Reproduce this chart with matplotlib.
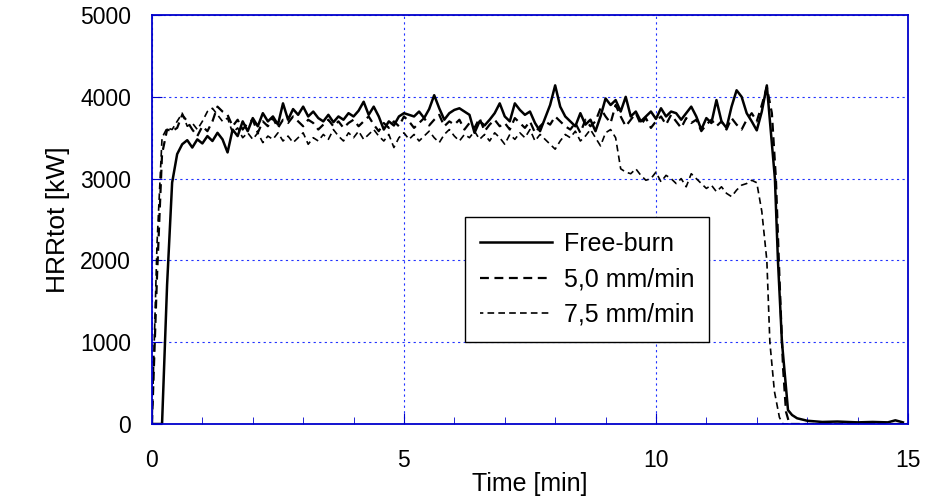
import numpy as np
import matplotlib
matplotlib.use('Agg')
import matplotlib.pyplot as plt
from matplotlib.ticker import MultipleLocator

# time grid for the burning phase (0.1 min steps) + tail points per series
t_grid_fb = np.round(np.arange(0, 12.21, 0.1), 1)
hrr_free = [0, 0, 0, 1700, 2950, 3300, 3420, 3470, 3380, 3480,
            3430, 3520, 3460, 3560, 3480, 3320, 3600, 3520, 3700, 3580,
            3740, 3640, 3800, 3700, 3760, 3660, 3920, 3720, 3850, 3780,
            3880, 3760, 3820, 3740, 3700, 3780, 3690, 3760, 3720, 3800,
            3760, 3830, 3940, 3780, 3880, 3760, 3600, 3700, 3650, 3760,
            3800, 3780, 3760, 3820, 3740, 3850, 4020, 3860, 3720, 3800,
            3840, 3860, 3820, 3780, 3560, 3700, 3650, 3720, 3800, 3920,
            3760, 3700, 3920, 3840, 3780, 3820, 3680, 3580, 3740, 3900,
            4140, 3880, 3760, 3700, 3640, 3800, 3660, 3720, 3580, 3760,
            3980, 3900, 3960, 3820, 4000, 3760, 3820, 3700, 3760, 3820,
            3730, 3860, 3760, 3820, 3800, 3720, 3800, 3880, 3760, 3600,
            3740, 3680, 3960, 3700, 3620, 3880, 4080, 4000, 3800, 3700,
            3590, 3820, 4140]
t_tail_fb = [12.36, 12.42, 12.5, 12.62, 12.7, 12.8, 13.0, 13.3, 13.6,
             14.0, 14.3, 14.6, 14.75, 14.9]
hrr_tail_fb = [3000, 2000, 1000, 170, 110, 70, 40, 25, 30, 20, 25, 20, 45, 20]

t_grid_50 = np.round(np.arange(0, 12.21, 0.1), 1)
hrr_50 = [0, 1800, 3300, 3600, 3580, 3620, 3780, 3700, 3600, 3520,
          3640, 3580, 3700, 3880, 3820, 3780, 3640, 3720, 3600, 3680,
          3720, 3560, 3700, 3640, 3740, 3620, 3720, 3680, 3760, 3700,
          3640, 3720, 3680, 3600, 3660, 3720, 3640, 3700, 3620, 3680,
          3720, 3640, 3700, 3760, 3660, 3580, 3680, 3620, 3700, 3640,
          3760, 3700, 3620, 3680, 3740, 3650, 3720, 3780, 3640, 3700,
          3660, 3720, 3600, 3680, 3620, 3740, 3580, 3660, 3720, 3640,
          3680, 3600, 3740, 3680, 3620, 3700, 3560, 3640, 3700, 3660,
          3760, 3700, 3640, 3600, 3680, 3560, 3720, 3640, 3700, 3860,
          3760, 3680, 3900, 3760, 3640, 3720, 3800, 3660, 3740, 3620,
          3700, 3760, 3660, 3780, 3700, 3620, 3740, 3680, 3720, 3580,
          3660, 3720, 3640, 3700, 3600, 3740, 3660, 3600, 3720, 3800,
          3700, 3900, 4120]
t_tail_50 = [12.3, 12.38, 12.45, 12.52, 12.58, 12.65, 13.0, 15.0]
hrr_tail_50 = [3800, 3000, 1800, 700, 150, 0, 0, 0]

t_grid_75 = np.round(np.arange(0, 12.01, 0.1), 1)
hrr_75 = [0, 2200, 3500, 3620, 3600, 3700, 3800, 3640, 3680, 3600,
          3700, 3820, 3860, 3780, 3700, 3740, 3560, 3620, 3500, 3560,
          3480, 3560, 3440, 3520, 3480, 3560, 3460, 3520, 3440, 3500,
          3560, 3420, 3500, 3460, 3540, 3480, 3600, 3520, 3460, 3560,
          3500, 3580, 3480, 3540, 3600, 3520, 3460, 3540, 3380, 3500,
          3560, 3480, 3540, 3460, 3520, 3580, 3500, 3440, 3540, 3600,
          3520, 3460, 3540, 3500, 3580, 3480, 3540, 3460, 3560, 3500,
          3420, 3540, 3480, 3560, 3500, 3600, 3460, 3540, 3480, 3420,
          3360, 3460, 3540, 3500, 3580, 3460, 3520, 3600, 3500, 3400,
          3560, 3600, 3500, 3120, 3080, 3060, 3120, 3040, 2980, 3000,
          3080, 2960, 3040, 3000, 2940, 3000, 2900, 3060, 3000, 2940,
          2880, 2920, 2840, 2900, 2820, 2780, 2860, 2920, 2940, 2980,
          2950]
t_tail_75 = [12.1, 12.2, 12.26, 12.35, 12.45, 12.52, 15.0]
hrr_tail_75 = [2600, 2000, 1000, 400, 80, 0, 0]


def main():
    plt.rcParams['font.family'] = ['Liberation Sans', 'DejaVu Sans']
    fig = plt.figure(figsize=(9.3, 5.01), dpi=100)
    ax = fig.add_axes([0.1634, 0.1537, 0.8129, 0.8163])

    blue = '#0000cc'
    ax.grid(True, color='#2233ff', linestyle=(0, (2, 3)), linewidth=0.8)
    ax.set_axisbelow(True)

    ax.plot(np.concatenate([t_grid_fb, t_tail_fb]), hrr_free + hrr_tail_fb,
            color='black', lw=1.8, label='Free-burn')
    ax.plot(np.concatenate([t_grid_50, t_tail_50]), hrr_50 + hrr_tail_50,
            color='black', lw=1.6, linestyle=(0, (4, 2.5)), label='5,0 mm/min')
    ax.plot(np.concatenate([t_grid_75, t_tail_75]), hrr_75 + hrr_tail_75,
            color='black', lw=1.2, linestyle=(2, (4, 2.5)), label='7,5 mm/min')

    ax.set_xlim(0, 15)
    ax.set_ylim(0, 5000)
    ax.xaxis.set_major_locator(MultipleLocator(5))
    ax.xaxis.set_minor_locator(MultipleLocator(1))
    ax.yaxis.set_major_locator(MultipleLocator(1000))
    ax.tick_params(axis='both', which='both', direction='in', color=blue,
                   labelsize=16.5, labelcolor='black')
    ax.tick_params(axis='x', which='major', length=8, pad=18)
    ax.tick_params(axis='x', which='minor', length=5)
    ax.tick_params(axis='y', which='major', length=7, pad=15)
    for sp in ax.spines.values():
        sp.set_color(blue)
        sp.set_linewidth(1.3)

    ax.set_xlabel('Time [min]', fontsize=18, labelpad=0)
    ax.set_ylabel('HRRtot [kW]', fontsize=19, labelpad=7)

    leg = ax.legend(loc='upper left', bbox_to_anchor=(0.414, 0.506),
                    fontsize=18, frameon=True, fancybox=False,
                    edgecolor='black', handlelength=2.9, labelspacing=0.45,
                    borderpad=0.6, handletextpad=0.45, borderaxespad=0)
    leg.get_frame().set_linewidth(1.0)
    leg.get_frame().set_alpha(1)

    fig.savefig('out.png', dpi=100)


if __name__ == '__main__':
    main()
